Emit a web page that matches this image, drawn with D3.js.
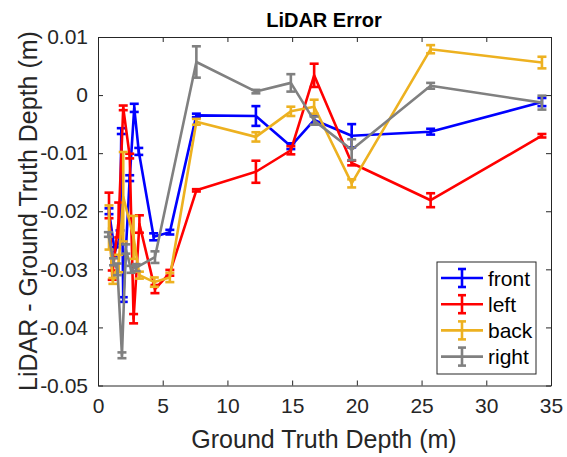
<!DOCTYPE html>
<html>
<head>
<meta charset="utf-8">
<script src="https://cdn.jsdelivr.net/npm/d3@7"></script>
<style>
  body { margin: 0; background: #fff; }
  svg { display: block; font-family: "Liberation Sans", Arial, sans-serif; }
</style>
</head>
<body>
<svg width="567" height="457"></svg>
<script>
// values: [depth, error, errorbar half-length]
var front = [
  [0.85, -0.0200, 0.0005], [1.3, -0.0270, 0.0008], [1.7, -0.0245, 0.0012],
  [1.8, -0.0062, 0.0005], [1.95, -0.0352, 0.0004], [2.45, -0.0143, 0.0005],
  [2.8, -0.0022, 0.0007], [3.15, -0.0097, 0.0006], [4.3, -0.0244, 0.0006],
  [5.55, -0.0236, 0.0004], [7.6, -0.0035, 0.0003], [12.2, -0.0036, 0.0017],
  [14.9, -0.0088, 0.0005], [16.7, -0.0043, 0.0008], [19.6, -0.0070, 0.0020],
  [25.7, -0.0063, 0.0005], [34.3, -0.0012, 0.0007]
];
var left = [
  [0.85, -0.0190, 0.0022], [1.1, -0.0310, 0.0008], [1.6, -0.0215, 0.0030],
  [1.95, -0.0022, 0.0004], [2.45, -0.0105, 0.0004], [2.75, -0.0385, 0.0008],
  [3.2, -0.0222, 0.0015], [4.4, -0.0334, 0.0007], [5.55, -0.0306, 0.0005],
  [7.6, -0.0164, 0.0002], [12.2, -0.0132, 0.0019], [14.9, -0.0095, 0.0007],
  [16.7, 0.0034, 0.0020], [19.6, -0.0117, 0.0004], [25.7, -0.0181, 0.0012],
  [34.3, -0.0070, 0.0003]
];
var back = [
  [0.85, -0.0228, 0.0038], [1.15, -0.0320, 0.0005], [1.6, -0.0290, 0.0015],
  [1.95, -0.0175, 0.0077], [2.75, -0.0245, 0.0037], [3.2, -0.0310, 0.0006],
  [4.35, -0.0322, 0.0008], [5.55, -0.0314, 0.0008], [7.6, -0.0046, 0.0005],
  [12.2, -0.0072, 0.0008], [14.9, -0.0028, 0.0008], [16.7, -0.0020, 0.0012],
  [19.6, -0.0152, 0.0007], [25.7, 0.0079, 0.0007], [34.3, 0.0056, 0.0010]
];
var right = [
  [0.8, -0.0240, 0.0004], [1.2, -0.0287, 0.0006], [1.5, -0.0300, 0.0010],
  [1.85, -0.0448, 0.0005], [2.15, -0.0265, 0.0008], [2.55, -0.0300, 0.0006],
  [2.95, -0.0297, 0.0006], [4.4, -0.0279, 0.0010], [7.6, 0.0057, 0.0027],
  [12.2, 0.0006, 0.0003], [14.9, 0.0021, 0.0015], [16.7, -0.0044, 0.0007],
  [19.6, -0.0094, 0.0018], [25.7, 0.0016, 0.0005], [34.3, -0.0013, 0.0012]
];
var seriesNames = ["front", "left", "back", "right"];
var seriesColors = ["#0000ff", "#ff0000", "#edb120", "#808080"];
var xTicks = [0, 5, 10, 15, 20, 25, 30, 35];
var yTicks = [0.01, 0, -0.01, -0.02, -0.03, -0.04, -0.05];

var svg = d3.select("svg");
var axisColor = "#262626";

var x = d3.scaleLinear().domain([0, 35]).range([98, 551]);
var y = d3.scaleLinear().domain([-0.05, 0.01]).range([385.5, 37]);

function fmtY(v) {
  if (v === 0) return "0";
  return (v < 0 ? "-" : "") + Math.abs(v).toFixed(2);
}

// axes with inward ticks on all four sides (matlab box on)
var gx = svg.append("g").attr("transform", "translate(0," + y(-0.05) + ")")
  .call(d3.axisBottom(x).tickValues(xTicks).tickSizeInner(-5).tickSizeOuter(0).tickPadding(13));
var gxt = svg.append("g").attr("transform", "translate(0," + y(0.01) + ")")
  .call(d3.axisTop(x).tickValues(xTicks).tickSizeInner(-5).tickSizeOuter(0).tickFormat(""));
var gy = svg.append("g").attr("transform", "translate(" + x(0) + ",0)")
  .call(d3.axisLeft(y).tickValues(yTicks).tickSizeInner(-5).tickSizeOuter(0).tickPadding(10).tickFormat(fmtY));
var gyr = svg.append("g").attr("transform", "translate(" + x(35) + ",0)")
  .call(d3.axisRight(y).tickValues(yTicks).tickSizeInner(-5).tickSizeOuter(0).tickFormat(""));

[gx, gxt, gy, gyr].forEach(function(g) {
  g.selectAll("path").attr("stroke", axisColor).attr("stroke-width", 1);
  g.selectAll("line").attr("stroke", axisColor).attr("stroke-width", 1);
  g.selectAll("text").attr("fill", axisColor).attr("font-size", 21)
    .attr("font-family", "Liberation Sans, Arial, sans-serif");
});

// series
var line = d3.line().x(function(d) { return x(d[0]); }).y(function(d) { return y(d[1]); });
var allSeries = [front, left, back, right];
var cap = 4.5;

allSeries.forEach(function(data, i) {
  var g = svg.append("g").attr("class", "series-" + seriesNames[i]);
  var col = seriesColors[i];
  g.append("path").datum(data)
    .attr("d", line).attr("fill", "none")
    .attr("stroke", col).attr("stroke-width", 2.6).attr("stroke-linejoin", "round");
  var eb = g.selectAll(".eb").data(data).enter().append("g").attr("class", "eb");
  eb.append("line")
    .attr("x1", function(d) { return x(d[0]); }).attr("x2", function(d) { return x(d[0]); })
    .attr("y1", function(d) { return y(d[1] + d[2]); }).attr("y2", function(d) { return y(d[1] - d[2]); })
    .attr("stroke", col).attr("stroke-width", 2.6);
  eb.append("line")
    .attr("x1", function(d) { return x(d[0]) - cap; }).attr("x2", function(d) { return x(d[0]) + cap; })
    .attr("y1", function(d) { return y(d[1] + d[2]); }).attr("y2", function(d) { return y(d[1] + d[2]); })
    .attr("stroke", col).attr("stroke-width", 2.6);
  eb.append("line")
    .attr("x1", function(d) { return x(d[0]) - cap; }).attr("x2", function(d) { return x(d[0]) + cap; })
    .attr("y1", function(d) { return y(d[1] - d[2]); }).attr("y2", function(d) { return y(d[1] - d[2]); })
    .attr("stroke", col).attr("stroke-width", 2.6);
});

// legend
var leg = svg.append("g").attr("transform", "translate(437,262)");
leg.append("rect").attr("width", 99).attr("height", 112)
  .attr("fill", "#fff").attr("stroke", axisColor).attr("stroke-width", 1);
seriesNames.forEach(function(name, i) {
  var cy = 16 + i * 26.2;
  var col = seriesColors[i];
  var r = leg.append("g");
  r.append("line").attr("x1", 4).attr("x2", 46).attr("y1", cy).attr("y2", cy)
    .attr("stroke", col).attr("stroke-width", 2.6);
  r.append("line").attr("x1", 25).attr("x2", 25).attr("y1", cy - 9).attr("y2", cy + 9)
    .attr("stroke", col).attr("stroke-width", 2.6);
  r.append("line").attr("x1", 21).attr("x2", 29).attr("y1", cy - 9).attr("y2", cy - 9)
    .attr("stroke", col).attr("stroke-width", 2.6);
  r.append("line").attr("x1", 21).attr("x2", 29).attr("y1", cy + 9).attr("y2", cy + 9)
    .attr("stroke", col).attr("stroke-width", 2.6);
  r.append("text").attr("x", 51).attr("y", cy + 7.5).text(name)
    .attr("font-size", 21).attr("fill", "#000");
});

// title and axis labels
svg.append("text").attr("x", 324).attr("y", 27).attr("text-anchor", "middle")
  .attr("font-size", 20).attr("font-weight", "bold").attr("fill", "#000").text("LiDAR Error");
svg.append("text").attr("x", 324).attr("y", 448).attr("text-anchor", "middle")
  .attr("font-size", 25).attr("fill", axisColor).text("Ground Truth Depth (m)");
svg.append("text").attr("transform", "translate(37,211) rotate(-90)").attr("text-anchor", "middle")
  .attr("font-size", 25).attr("fill", axisColor).text("LiDAR - Ground Truth Depth (m)");
</script>
</body>
</html>
